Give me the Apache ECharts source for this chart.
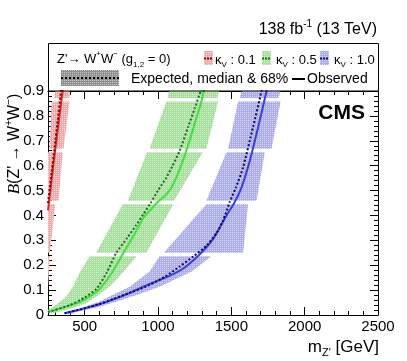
<!DOCTYPE html>
<html>
<head>
<meta charset="utf-8">
<script src="https://cdn.jsdelivr.net/npm/echarts@6/dist/echarts.min.js"></script>
<style>
  html, body { margin: 0; padding: 0; background: #fff; }
  #chart { width: 407px; height: 361px; }
</style>
</head>
<body>
<div id="chart"></div>
<script>
// axis ticks
const massLabels = [500, 1000, 1500, 2000, 2500];
const massMinor = [300, 400, 600, 700, 800, 900, 1100, 1200, 1300, 1400, 1600, 1700, 1800, 1900, 2100, 2200, 2300, 2400];

// observed / expected limits [mass, B]
const obsK01 = [[250, 0.42], [270, 0.52], [290, 0.62], [310, 0.715], [330, 0.81], [350, 0.9], [360, 0.95]];
const expK01 = [[250, 0.45], [272, 0.56], [294, 0.67], [316, 0.78], [338, 0.9], [348, 0.95]];
const obsK05 = [[250, 0.013], [300, 0.02], [374, 0.034], [440, 0.046], [500, 0.062], [560, 0.085], [600, 0.103], [680, 0.165], [760, 0.245], [830, 0.315], [900, 0.39], [960, 0.43], [1000, 0.455], [1040, 0.475], [1090, 0.51], [1130, 0.56], [1170, 0.62], [1210, 0.69], [1250, 0.77], [1290, 0.845], [1314, 0.905], [1325, 0.95]];
const expK05 = [[250, 0.012], [400, 0.04], [500, 0.07], [580, 0.105], [650, 0.17], [716, 0.25], [790, 0.31], [850, 0.36], [900, 0.405], [950, 0.45], [1000, 0.5], [1057, 0.553], [1100, 0.6], [1148, 0.66], [1205, 0.755], [1250, 0.83], [1290, 0.9], [1305, 0.95]];
const obsK10 = [[363, 0.007], [430, 0.016], [500, 0.027], [600, 0.043], [716, 0.067], [800, 0.087], [900, 0.114], [1000, 0.138], [1100, 0.163], [1180, 0.19], [1260, 0.23], [1320, 0.265], [1375, 0.305], [1420, 0.35], [1467, 0.4], [1520, 0.45], [1569, 0.512], [1626, 0.62], [1683, 0.755], [1740, 0.9], [1755, 0.95]];
const expK10 = [[363, 0.007], [500, 0.027], [600, 0.044], [700, 0.065], [800, 0.088], [880, 0.105], [943, 0.121], [1050, 0.155], [1148, 0.195], [1240, 0.235], [1330, 0.278], [1400, 0.33], [1444, 0.38], [1490, 0.455], [1530, 0.51], [1580, 0.593], [1648, 0.755], [1706, 0.9], [1722, 0.95]];

// 68% bands [B, mass low, mass high]
const bandK01 = [
  [0, 150, 240], [0.236, 200, 262],
  [0.25, 200, 262], [0.445, 220, 300],
  [0.459, 230, 322], [0.654, 245, 351],
  [0.668, 260, 356], [0.858, 276, 397],
  [0.872, 293, 395], [0.95, 310, 405]
];
const bandK05 = [
  [0.008, 240, 290], [0.02, 250, 374], [0.047, 320, 511], [0.074, 374, 580], [0.114, 420, 670], [0.17, 465, 760], [0.236, 535, 855],
  [0.25, 579, 920], [0.445, 760, 1105],
  [0.459, 795, 1110], [0.654, 925, 1305],
  [0.668, 943, 1330], [0.858, 1057, 1410],
  [0.872, 1065, 1405], [0.95, 1095, 1440]
];
const bandK10 = [
  [0.006, 360, 410], [0.013, 374, 450], [0.033, 500, 602], [0.054, 602, 720], [0.081, 693, 860], [0.114, 807, 1011], [0.175, 943, 1230], [0.236, 1010, 1364],
  [0.25, 1040, 1580], [0.445, 1330, 1614],
  [0.459, 1330, 1672], [0.654, 1467, 1728],
  [0.668, 1478, 1774], [0.858, 1546, 1836],
  [0.872, 1558, 1822], [0.95, 1590, 1860]
];
// band pieces are drawn separately, split at these levels
const bandGaps = [0.243, 0.452, 0.661, 0.865];

const font = '"Liberation Sans", Arial, sans-serif';

function dots(base, dot) {
  const c = document.createElement('canvas');
  c.width = 2; c.height = 2;
  const ctx = c.getContext('2d');
  ctx.fillStyle = base; ctx.fillRect(0, 0, 2, 2);
  ctx.fillStyle = dot; ctx.fillRect(0, 0, 1, 1);
  return { image: c, repeat: 'repeat' };
}
const fillRed = dots('#f2a8a8', '#fbdcdc');
const fillGreen = dots('#a6de9c', '#d6f2d0');
const fillBlue = dots('#ababef', '#d8d8f9');
const fillGrey = dots('#8e8e8e', '#cacaca');

function bandSeries(rows, fill) {
  return {
    type: 'custom', clip: true, silent: true, z: 1,
    data: rows.map(r => [r[1], r[0], r[2]]),
    renderItem: function (params, api) {
      if (params.dataIndex !== 0) return null;
      const pieces = [];
      rows.forEach(r => {
        const k = bandGaps.filter(g => g < r[0]).length;
        (pieces[k] = pieces[k] || []).push(r);
      });
      const children = pieces.filter(Boolean).map(p => {
        const left = p.map(r => api.coord([r[1], r[0]]));
        const right = p.slice().reverse().map(r => api.coord([r[2], r[0]]));
        return { type: 'polygon', shape: { points: left.concat(right) }, style: { fill: fill } };
      });
      return { type: 'group', children: children };
    }
  };
}

function lineSeries(data, color, dotted) {
  return {
    type: 'line', data: data, showSymbol: false, smooth: 0.2, silent: true, z: dotted ? 4 : 3,
    lineStyle: { color: color, width: 2, type: dotted ? [2, 2] : 'solid' }
  };
}

const myChart = echarts.init(document.getElementById('chart'));

const xBase = { type: 'value', min: 250, max: 2500, splitLine: { show: false } };
const yBase = { type: 'value', min: 0, max: 0.9, interval: 0.1, splitLine: { show: false } };
const black = { color: '#000', width: 1 };

// rich text pieces for super/subscripts
function rich(size, supShift) {
  return {
    t: { fontSize: size, lineHeight: size + supShift * 2, verticalAlign: 'middle' },
    sup: { fontSize: Math.round(size * 0.65), lineHeight: Math.round(size * 0.65), verticalAlign: 'top' },
    sub: { fontSize: Math.round(size * 0.62), lineHeight: Math.round(size * 0.62) + 2, verticalAlign: 'bottom' },
    b: { fontSize: size + 1, fontFamily: '"Liberation Serif", serif', fontStyle: 'italic', verticalAlign: 'middle' }
  };
}

myChart.setOption({
  animation: false,
  grid: { left: 48, right: 29, top: 91, bottom: 46 },
  xAxis: [
    Object.assign({}, xBase, {
      position: 'bottom',
      axisLine: { show: true, lineStyle: black },
      axisTick: { show: true, inside: true, length: 8, customValues: massLabels, lineStyle: black },
      axisLabel: { customValues: massLabels, fontSize: 15, color: '#000', fontFamily: font, margin: 4,
        formatter: v => String(v) }
    }),
    Object.assign({}, xBase, {
      position: 'bottom',
      axisLine: { show: false },
      axisTick: { show: true, inside: true, length: 4, customValues: massMinor, lineStyle: black },
      axisLabel: { show: false }
    }),
    Object.assign({}, xBase, {
      position: 'top',
      axisLine: { show: true, lineStyle: black },
      axisTick: { show: true, inside: true, length: 8, customValues: massLabels, lineStyle: black },
      axisLabel: { show: false }
    }),
    Object.assign({}, xBase, {
      position: 'top',
      axisLine: { show: false },
      axisTick: { show: true, inside: true, length: 4, customValues: massMinor, lineStyle: black },
      axisLabel: { show: false }
    })
  ],
  yAxis: [
    Object.assign({}, yBase, {
      position: 'left',
      axisLine: { show: true, lineStyle: black },
      axisTick: { show: true, inside: true, length: 8, lineStyle: black },
      minorTick: { show: true, splitNumber: 5, length: 4, lineStyle: black },
      axisLabel: { fontSize: 15, color: '#000', fontFamily: font, margin: 4,
        formatter: v => String(Math.round(v * 10) / 10) }
    }),
    Object.assign({}, yBase, {
      position: 'right',
      axisLine: { show: true, lineStyle: black },
      axisTick: { show: true, inside: true, length: 8, lineStyle: black },
      minorTick: { show: true, splitNumber: 5, length: 4, lineStyle: black },
      axisLabel: { show: false }
    })
  ],
  series: [
    bandSeries(bandK01, fillRed),
    bandSeries(bandK05, fillGreen),
    bandSeries(bandK10, fillBlue),
    lineSeries(obsK01, '#f01c1c', false),
    lineSeries(expK01, '#8a0000', true),
    lineSeries(obsK05, '#3ee23e', false),
    lineSeries(expK05, '#1d6e1d', true),
    lineSeries(obsK10, '#3a3af5', false),
    lineSeries(expK10, '#0a0a6e', true)
  ],
  graphic: [
    // legend frame
    { type: 'rect', shape: { x: 48.5, y: 43.5, width: 330, height: 47.5 }, style: { fill: 'none', stroke: '#000', lineWidth: 1 }, z: 10 },
    { type: 'text', x: 57, y: 59, z: 10, style: {
      text: "{t|Z'→ W}{sup|+}{t|W}{sup|−}{t| (g}{sub|1,2}{t| = 0)}", font: '13px ' + font, fill: '#000',
      verticalAlign: 'middle', rich: rich(13, 3) } },
    // kappa entries
    { type: 'rect', shape: { x: 204, y: 51, width: 9, height: 14 }, style: { fill: fillRed }, z: 10 },
    { type: 'line', shape: { x1: 204, y1: 58.5, x2: 213, y2: 58.5 }, style: { stroke: '#8a0000', lineWidth: 2, lineDash: [2, 1] }, z: 11 },
    { type: 'text', x: 215, y: 60, z: 10, style: { text: '{t|κ}{sub|V}{t| : 0.1}', font: '13px ' + font, fill: '#000', verticalAlign: 'middle', rich: rich(13, 2) } },
    { type: 'rect', shape: { x: 262, y: 51, width: 9, height: 14 }, style: { fill: fillGreen }, z: 10 },
    { type: 'line', shape: { x1: 262, y1: 58.5, x2: 271, y2: 58.5 }, style: { stroke: '#1d6e1d', lineWidth: 2, lineDash: [2, 1] }, z: 11 },
    { type: 'text', x: 276, y: 60, z: 10, style: { text: '{t|κ}{sub|V}{t| : 0.5}', font: '13px ' + font, fill: '#000', verticalAlign: 'middle', rich: rich(13, 2) } },
    { type: 'rect', shape: { x: 320, y: 51, width: 9, height: 14 }, style: { fill: fillBlue }, z: 10 },
    { type: 'line', shape: { x1: 320, y1: 58.5, x2: 329, y2: 58.5 }, style: { stroke: '#0a0a6e', lineWidth: 2, lineDash: [2, 1] }, z: 11 },
    { type: 'text', x: 334, y: 60, z: 10, style: { text: '{t|κ}{sub|V}{t| : 1.0}', font: '13px ' + font, fill: '#000', verticalAlign: 'middle', rich: rich(13, 2) } },
    // expected / observed entries
    { type: 'rect', shape: { x: 61, y: 70, width: 58, height: 16 }, style: { fill: fillGrey }, z: 10 },
    { type: 'line', shape: { x1: 61, y1: 78, x2: 119, y2: 78 }, style: { stroke: '#000', lineWidth: 2, lineDash: [2, 2] }, z: 11 },
    { type: 'text', x: 131, y: 79, z: 10, style: { text: 'Expected, median & 68%', font: '14px ' + font, fill: '#000', verticalAlign: 'middle' } },
    { type: 'line', shape: { x1: 292, y1: 79, x2: 305, y2: 79 }, style: { stroke: '#000', lineWidth: 2 }, z: 11 },
    { type: 'text', x: 307, y: 79.5, z: 10, style: { text: 'Observed', font: '14px ' + font, fill: '#000', verticalAlign: 'middle' } },
    // lumi label
    { type: 'text', x: 377, y: 30, z: 10, style: {
      text: '{t|138 fb}{sup|-1}{t| (13 TeV)}', font: '16px ' + font, fill: '#000', align: 'right', verticalAlign: 'middle',
      rich: rich(16, 3) } },
    // CMS
    { type: 'text', x: 365, y: 113, z: 10, style: { text: 'CMS', font: 'bold 21px ' + font, fill: '#000', align: 'right', verticalAlign: 'middle' } },
    // axis titles
    { type: 'text', x: 379, y: 347, z: 10, style: {
      text: "{t|m}{sub|Z'}{t| [GeV]}", font: '17px ' + font, fill: '#000', align: 'right', verticalAlign: 'middle',
      rich: rich(17, 3) } },
    { type: 'text', x: 15, y: 144, rotation: Math.PI / 2, z: 10, style: {
      text: "{b|B}{t|(Z' → W}{sup|+}{t|W}{sup|−}{t|)}", font: '16px ' + font, fill: '#000', align: 'center', verticalAlign: 'middle',
      rich: rich(16, 3) } }
  ]
});
</script>
</body>
</html>
